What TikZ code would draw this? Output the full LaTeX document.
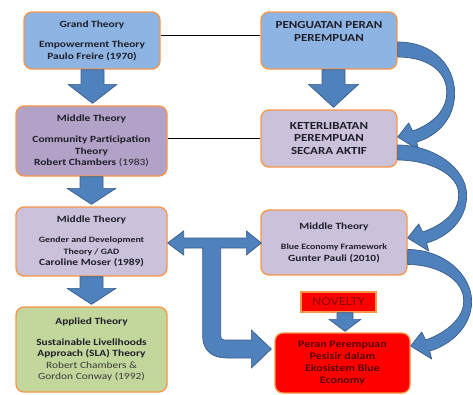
\documentclass[tikz,border=0pt]{standalone}
\usepackage{fontspec}
\setmainfont{Carlito}[FakeStretch=1.2]
\usetikzlibrary{calc}
\definecolor{bluebox}{HTML}{8EB4E3}
\definecolor{purplebox}{HTML}{B3A2C7}
\definecolor{lavbox}{HTML}{CCC1DA}
\definecolor{greenbox}{HTML}{C3D69B}
\definecolor{redbox}{HTML}{FF0000}
\definecolor{border}{HTML}{F79646}
\definecolor{arrowfill}{HTML}{4F81BD}
\definecolor{arrowline}{HTML}{385D8A}
\definecolor{txt}{HTML}{1F1F2A}
\definecolor{deepred}{HTML}{580000}
\definecolor{novtxt}{HTML}{8A0000}
\definecolor{greytxt}{HTML}{3A3A3A}
\newcommand\smtxt{\fontsize{8.2}{10}\selectfont}
\newcommand\rg{\mdseries}
\tikzset{
  box/.style={draw=border, line width=1.3pt, rounded corners=8pt, align=center,
    inner sep=2pt, text=txt, font=\fontsize{9.5}{11.5}\selectfont\bfseries},
  capsfont/.style={font=\fontsize{10.8}{12.5}\selectfont\bfseries},
  blockarrow/.style={fill=arrowfill, draw=arrowline, line width=0.7pt, line join=round},
  link/.style={draw=black, line width=0.9pt}
}
% straight block arrow pointing down: #1 start, #2 tip, #3 half shaft, #4 half head, #5 head length
\newcommand\blockdown[5]{%
  \filldraw[blockarrow] let \p1=(#1), \p2=(#2) in
    (\x1-#3pt,\y1) -- (\x1+#3pt,\y1) -- (\x1+#3pt,\y2+#5pt) -- (\x1+#4pt,\y2+#5pt)
    -- (\x1,\y2) -- (\x1-#4pt,\y2+#5pt) -- (\x1-#3pt,\y2+#5pt) -- cycle;}
% curved block arrow on the right: #1 start (band centre), #2 tip, #3 bulge offset
\newcommand\curvedarrow[3]{%
  \filldraw[blockarrow] let \p1=(#1), \p2=(#2), \n1={0.5*(\y1+\y2)}, \n2={\x1+#3pt} in
    (\x1,\y1+7.5pt) .. controls (\x1+36pt,\y1+7.5pt) and (\n2,\n1+27pt) .. (\n2,\n1)
    .. controls (\n2,\n1-25pt) and (\x2+40pt,\y2+1pt) .. (\x2+19pt,\y2-5pt)
    -- (\x2+21pt,\y2-13pt) -- (\x2,\y2) -- (\x2+11pt,\y2+14pt) -- (\x2+15pt,\y2+6pt)
    .. controls (\x2+35pt,\y2+13pt) and (\n2-8pt,\n1-17pt) .. (\n2-8pt,\n1)
    .. controls (\n2-7pt,\n1+21pt) and (\x1+31pt,\y1-7.5pt) .. (\x1,\y1-7.5pt) -- cycle;}
\begin{document}
\begin{tikzpicture}[x=1pt,y=-1pt]
\useasboundingbox (0,0) rectangle (473,394);

% boxes
\node[box, fill=bluebox, minimum width=136pt, minimum height=57pt] (grand) at (92,40.5)
  {Grand Theory\\[9pt]Empowerment Theory\\Paulo Freire (1970)};
\node[box, fill=purplebox, minimum width=151pt, minimum height=70pt] (cpt) at (91.5,141)
  {Middle Theory\\[10pt]Community Participation\\Theory\\Robert Chambers {\rg(1983)}};
\node[box, fill=lavbox, minimum width=151pt, minimum height=69pt] (gad) at (91.5,241.5)
  {Middle Theory\\[9pt]{\smtxt Gender and Development}\\{\smtxt Theory / GAD}\\Caroline Moser (1989)};
\node[box, fill=greenbox, minimum width=151pt, minimum height=85pt] (app) at (91.5,349.5)
  {Applied Theory\\[9pt]Sustainable Livelihoods\\Approach (SLA) Theory\\{\rg\color{greytxt}Robert Chambers \&}\\{\rg\color{greytxt}Gordon Conway (1992)}};
\node[box, capsfont, fill=bluebox, minimum width=136pt, minimum height=57pt] (pen) at (329,40.5)
  {PENGUATAN PERAN\\PEREMPUAN\\[6pt]\mbox{}};
\node[box, capsfont, fill=lavbox, minimum width=136pt, minimum height=57pt] (ket) at (329,138.5)
  {KETERLIBATAN\\PEREMPUAN\\SECARA AKTIF};
\node[box, fill=lavbox, minimum width=146pt, minimum height=65pt] (blue) at (334,242.5)
  {Middle Theory\\[9pt]{\smtxt Blue Economy Framework}\\Gunter Pauli (2010)};
\node[box, fill=redbox, rounded corners=0pt, minimum width=75pt, minimum height=20pt,
  text=novtxt, font=\fontsize{12}{13}\selectfont] (nov) at (338.5,302) {NOVELTY};
\node[box, fill=redbox, minimum width=135pt, minimum height=60pt, text=deepred,
  font=\fontsize{10}{12.3}\selectfont\bfseries] (red) at (342.5,363)
  {Peran Perempuan\\Pesisir dalam\\Ekosistem Blue\\Economy};

% thin links
\draw[link] ($(grand.east)+(0,-5)$) -- ($(pen.west)+(0,-5)$);
\draw[link] ($(cpt.east)+(0,-3)$) -- ($(ket.west)+(0,-0.5)$);

% straight block arrows
\blockdown{$(grand.south)+(0.5,0)$}{$(cpt.north)+(0,-2)$}{11.5}{24.5}{19}
\blockdown{cpt.south}{$(gad.north)+(0,-2)$}{11.5}{24.5}{16}
\blockdown{gad.south}{$(app.north)+(0,-2)$}{11.5}{24.5}{16}
\blockdown{$(pen.south)+(4.5,0)$}{$(ket.north)+(0,-2)$}{11.5}{25}{23}
\blockdown{$(nov.south)+(6.5,0)$}{$(red.north)+(0,-1)$}{8}{16}{12}

% curved arrows on the right
\curvedarrow{$(pen.east)+(0,9)$}{$(ket.east)+(0,-1.5)$}{57}
\curvedarrow{$(ket.east)+(0,14)$}{$(blue.east)+(0,-4.5)$}{69}
\curvedarrow{$(blue.east)+(0,14.5)$}{$(red.east)+(0,-17)$}{64}

% double arrow with branch down to the result box
\filldraw[blockarrow] let \p1=($(gad.east)+(0,1.5)$), \p2=($(blue.west)+(1,0.5)$),
    \p3=($(red.west)+(-3,-14)$) in
  (\x1,\y1) -- (\x1+16pt,\y1+12pt) -- (\x1+16pt,\y1+5pt) -- (\x2-15pt,\y1+5pt)
  -- (\x2-15pt,\y2+12pt) -- (\x2,\y2) -- (\x2-15pt,\y2-12pt) -- (\x2-15pt,\y1-5pt)
  -- (\x1+53pt,\y1-5pt) -- (\x1+53pt,\y3+13pt)
  .. controls (\x1+53pt,\y3+10pt) and (\x1+54pt,\y3+9pt) .. (\x1+57pt,\y3+9pt)
  -- (\x3-20pt,\y3+9pt) -- (\x3-20pt,\y3+19pt) -- (\x3,\y3) -- (\x3-20pt,\y3-19pt)
  -- (\x3-20pt,\y3-9pt) -- (\x1+59pt,\y3-9pt)
  .. controls (\x1+44pt,\y3-9pt) and (\x1+35pt,\y3-1pt) .. (\x1+35pt,\y3+13pt)
  -- (\x1+35pt,\y1-5pt) -- (\x1+16pt,\y1-5pt) -- (\x1+16pt,\y1-12pt) -- cycle;
\end{tikzpicture}
\end{document}
